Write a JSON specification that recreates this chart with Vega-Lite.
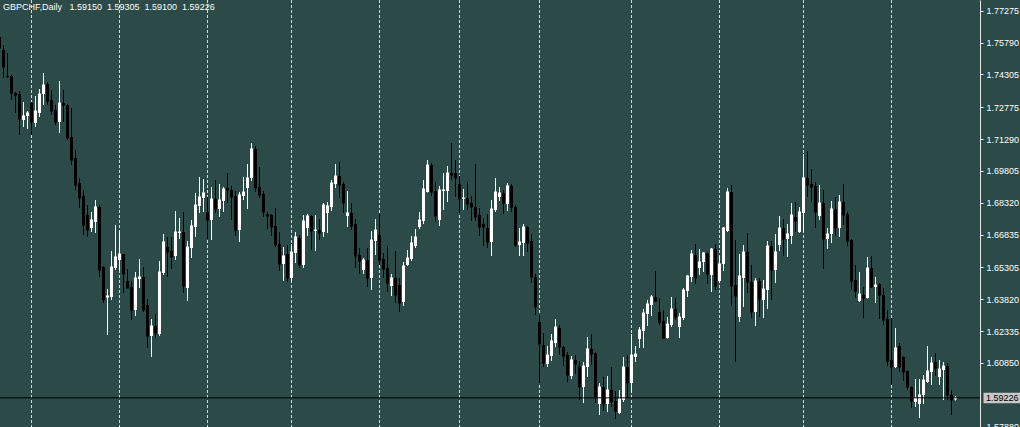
{
  "$schema": "https://vega.github.io/schema/vega-lite/v6.json",
  "width": 980,
  "height": 427,
  "autosize": {"type": "none"},
  "padding": {"left": 0, "top": 0, "right": 40, "bottom": 0},
  "background": "#2b4a48",
  "config": {"view": {"stroke": null}},
  "title": {"text": "GBPCHF,Daily\u00a0\u00a0\u00a01.59150\u00a0\u00a01.59305\u00a0\u00a01.59100\u00a0\u00a01.59226", "anchor": "start", "frame": "group", "orient": "top", "baseline": "alphabetic", "offset": 0, "dx": 3, "dy": 19, "color": "#ffffff", "font": "Liberation Sans", "fontSize": 9, "fontWeight": "normal"},
  "datasets": {
    "seps": [{"i":7},{"i":29},{"i":51},{"i":72},{"i":94},{"i":114},{"i":134},{"i":157},{"i":179},{"i":200},{"i":222}],
    "candles": [
{"i":-1,"o":1.76049,"h":1.76095,"l":1.75443,"c":1.75536},
{"i":0,"o":1.75443,"h":1.75676,"l":1.74137,"c":1.74651},
{"i":1,"o":1.74230,"h":1.75303,"l":1.74137,"c":1.74207},
{"i":2,"o":1.74230,"h":1.74277,"l":1.73112,"c":1.73438},
{"i":3,"o":1.73438,"h":1.73485,"l":1.72506,"c":1.73345},
{"i":4,"o":1.73392,"h":1.73531,"l":1.71480,"c":1.72226},
{"i":5,"o":1.72179,"h":1.73019,"l":1.71853,"c":1.72366},
{"i":6,"o":1.72366,"h":1.72599,"l":1.71759,"c":1.72506},
{"i":7,"o":1.72972,"h":1.73019,"l":1.71480,"c":1.72086},
{"i":8,"o":1.72039,"h":1.73298,"l":1.71853,"c":1.72599},
{"i":9,"o":1.72506,"h":1.73624,"l":1.72320,"c":1.73392},
{"i":10,"o":1.73392,"h":1.74370,"l":1.72879,"c":1.73811},
{"i":11,"o":1.73858,"h":1.73951,"l":1.72879,"c":1.73065},
{"i":12,"o":1.73112,"h":1.73578,"l":1.72413,"c":1.72599},
{"i":13,"o":1.72646,"h":1.72879,"l":1.71946,"c":1.72086},
{"i":14,"o":1.72086,"h":1.73997,"l":1.71573,"c":1.72972},
{"i":15,"o":1.72972,"h":1.73578,"l":1.72086,"c":1.72879},
{"i":16,"o":1.72879,"h":1.72926,"l":1.71247,"c":1.71340},
{"i":17,"o":1.71387,"h":1.72739,"l":1.70081,"c":1.70314},
{"i":18,"o":1.70408,"h":1.70781,"l":1.68916,"c":1.69149},
{"i":19,"o":1.69242,"h":1.69475,"l":1.68076,"c":1.68543},
{"i":20,"o":1.68636,"h":1.68916,"l":1.66818,"c":1.67284},
{"i":21,"o":1.67750,"h":1.68216,"l":1.66725,"c":1.67051},
{"i":22,"o":1.67144,"h":1.67890,"l":1.66958,"c":1.67517},
{"i":23,"o":1.67424,"h":1.68449,"l":1.66911,"c":1.68123},
{"i":24,"o":1.68123,"h":1.68216,"l":1.64860,"c":1.65186},
{"i":25,"o":1.65326,"h":1.65372,"l":1.63647,"c":1.63787},
{"i":26,"o":1.63903,"h":1.64299,"l":1.62155,"c":1.63973},
{"i":27,"o":1.63927,"h":1.66071,"l":1.63787,"c":1.65326},
{"i":28,"o":1.65279,"h":1.67284,"l":1.65186,"c":1.65792},
{"i":29,"o":1.65652,"h":1.67051,"l":1.65139,"c":1.65932},
{"i":30,"o":1.65932,"h":1.65932,"l":1.64113,"c":1.65000},
{"i":31,"o":1.64672,"h":1.65232,"l":1.64323,"c":1.64346},
{"i":32,"o":1.64393,"h":1.64672,"l":1.62854,"c":1.63321},
{"i":33,"o":1.63321,"h":1.65093,"l":1.63041,"c":1.64813},
{"i":34,"o":1.64766,"h":1.65698,"l":1.64346,"c":1.64860},
{"i":35,"o":1.64860,"h":1.65326,"l":1.63228,"c":1.63321},
{"i":36,"o":1.63554,"h":1.63833,"l":1.61549,"c":1.62108},
{"i":37,"o":1.62108,"h":1.62901,"l":1.61129,"c":1.62574},
{"i":38,"o":1.62574,"h":1.63135,"l":1.62015,"c":1.62248},
{"i":39,"o":1.62202,"h":1.65605,"l":1.62108,"c":1.65093},
{"i":40,"o":1.65046,"h":1.66865,"l":1.64953,"c":1.66491},
{"i":41,"o":1.66258,"h":1.66725,"l":1.64860,"c":1.66025},
{"i":42,"o":1.66071,"h":1.66725,"l":1.65232,"c":1.65792},
{"i":43,"o":1.65838,"h":1.67936,"l":1.65652,"c":1.66958},
{"i":44,"o":1.66911,"h":1.67610,"l":1.66631,"c":1.66958},
{"i":45,"o":1.66958,"h":1.67890,"l":1.64113,"c":1.64439},
{"i":46,"o":1.64346,"h":1.66537,"l":1.63740,"c":1.66258},
{"i":47,"o":1.66211,"h":1.67517,"l":1.65745,"c":1.67237},
{"i":48,"o":1.67191,"h":1.68776,"l":1.66725,"c":1.68216},
{"i":49,"o":1.68169,"h":1.69522,"l":1.67843,"c":1.68590},
{"i":50,"o":1.68543,"h":1.69428,"l":1.67890,"c":1.68776},
{"i":51,"o":1.67890,"h":1.68590,"l":1.66631,"c":1.67517},
{"i":52,"o":1.67517,"h":1.69055,"l":1.66584,"c":1.68496},
{"i":53,"o":1.68496,"h":1.69382,"l":1.67843,"c":1.68029},
{"i":54,"o":1.68029,"h":1.69196,"l":1.67657,"c":1.68449},
{"i":55,"o":1.68402,"h":1.69055,"l":1.67890,"c":1.68962},
{"i":56,"o":1.69009,"h":1.69708,"l":1.68309,"c":1.68916},
{"i":57,"o":1.68916,"h":1.69102,"l":1.67517,"c":1.68590},
{"i":58,"o":1.68636,"h":1.68869,"l":1.66771,"c":1.67051},
{"i":59,"o":1.67051,"h":1.68823,"l":1.66491,"c":1.68683},
{"i":60,"o":1.68636,"h":1.69522,"l":1.68449,"c":1.68823},
{"i":61,"o":1.69009,"h":1.70128,"l":1.68029,"c":1.69475},
{"i":62,"o":1.69475,"h":1.71107,"l":1.69335,"c":1.70827},
{"i":63,"o":1.70827,"h":1.70967,"l":1.68823,"c":1.69009},
{"i":64,"o":1.69055,"h":1.69988,"l":1.68543,"c":1.68683},
{"i":65,"o":1.68730,"h":1.68869,"l":1.67657,"c":1.67890},
{"i":66,"o":1.67797,"h":1.67890,"l":1.67097,"c":1.67703},
{"i":67,"o":1.67750,"h":1.67797,"l":1.66771,"c":1.67191},
{"i":68,"o":1.67237,"h":1.68076,"l":1.66258,"c":1.66351},
{"i":69,"o":1.66398,"h":1.66958,"l":1.65139,"c":1.65466},
{"i":70,"o":1.65466,"h":1.66258,"l":1.64672,"c":1.65838},
{"i":71,"o":1.65932,"h":1.66351,"l":1.64626,"c":1.64813},
{"i":72,"o":1.64813,"h":1.66398,"l":1.64626,"c":1.66025},
{"i":73,"o":1.65978,"h":1.66958,"l":1.65512,"c":1.66725},
{"i":74,"o":1.66678,"h":1.66818,"l":1.65279,"c":1.65419},
{"i":75,"o":1.65419,"h":1.67750,"l":1.65279,"c":1.67470},
{"i":76,"o":1.67144,"h":1.67797,"l":1.66771,"c":1.67703},
{"i":77,"o":1.67703,"h":1.67750,"l":1.66118,"c":1.67004},
{"i":78,"o":1.67004,"h":1.67750,"l":1.66071,"c":1.67051},
{"i":79,"o":1.67051,"h":1.67563,"l":1.66584,"c":1.66911},
{"i":80,"o":1.66958,"h":1.68309,"l":1.66725,"c":1.68216},
{"i":81,"o":1.67843,"h":1.68356,"l":1.66911,"c":1.68169},
{"i":82,"o":1.68123,"h":1.69382,"l":1.67936,"c":1.69242},
{"i":83,"o":1.69196,"h":1.70128,"l":1.69009,"c":1.69568},
{"i":84,"o":1.69568,"h":1.70221,"l":1.68543,"c":1.69149},
{"i":85,"o":1.69196,"h":1.69289,"l":1.67843,"c":1.68309},
{"i":86,"o":1.67703,"h":1.68869,"l":1.67191,"c":1.67843},
{"i":87,"o":1.67843,"h":1.68309,"l":1.67051,"c":1.67237},
{"i":88,"o":1.67331,"h":1.67563,"l":1.65279,"c":1.65838},
{"i":89,"o":1.65885,"h":1.66211,"l":1.65000,"c":1.65605},
{"i":90,"o":1.65186,"h":1.65745,"l":1.65000,"c":1.65652},
{"i":91,"o":1.65652,"h":1.66211,"l":1.64393,"c":1.64813},
{"i":92,"o":1.64813,"h":1.67004,"l":1.64253,"c":1.66584},
{"i":93,"o":1.66537,"h":1.67563,"l":1.65885,"c":1.67051},
{"i":94,"o":1.66818,"h":1.67797,"l":1.65419,"c":1.65652},
{"i":95,"o":1.65698,"h":1.65978,"l":1.64813,"c":1.65232},
{"i":96,"o":1.65279,"h":1.66304,"l":1.64160,"c":1.64579},
{"i":97,"o":1.64439,"h":1.65000,"l":1.63973,"c":1.64813},
{"i":98,"o":1.64813,"h":1.66071,"l":1.63647,"c":1.64020},
{"i":99,"o":1.64486,"h":1.64813,"l":1.63228,"c":1.63647},
{"i":100,"o":1.63694,"h":1.65559,"l":1.63507,"c":1.65372},
{"i":101,"o":1.65419,"h":1.66118,"l":1.65372,"c":1.65745},
{"i":102,"o":1.65698,"h":1.66771,"l":1.65605,"c":1.66444},
{"i":103,"o":1.66304,"h":1.67097,"l":1.66211,"c":1.66725},
{"i":104,"o":1.67191,"h":1.67890,"l":1.67097,"c":1.67517},
{"i":105,"o":1.67470,"h":1.69382,"l":1.67331,"c":1.68962},
{"i":106,"o":1.68823,"h":1.70314,"l":1.68800,"c":1.70081},
{"i":107,"o":1.70081,"h":1.70174,"l":1.68636,"c":1.68823},
{"i":108,"o":1.68869,"h":1.69289,"l":1.67424,"c":1.67703},
{"i":109,"o":1.67517,"h":1.69102,"l":1.67237,"c":1.68916},
{"i":110,"o":1.68869,"h":1.69708,"l":1.67983,"c":1.68916},
{"i":111,"o":1.68869,"h":1.70034,"l":1.68356,"c":1.69708},
{"i":112,"o":1.69708,"h":1.71107,"l":1.69382,"c":1.69615},
{"i":113,"o":1.69708,"h":1.70314,"l":1.68590,"c":1.69475},
{"i":114,"o":1.69196,"h":1.69568,"l":1.67843,"c":1.68496},
{"i":115,"o":1.68520,"h":1.68962,"l":1.67983,"c":1.68543},
{"i":116,"o":1.68543,"h":1.69289,"l":1.67983,"c":1.68262},
{"i":117,"o":1.68309,"h":1.68636,"l":1.67470,"c":1.68123},
{"i":118,"o":1.68123,"h":1.70128,"l":1.67470,"c":1.67657},
{"i":119,"o":1.67750,"h":1.68076,"l":1.66771,"c":1.67191},
{"i":120,"o":1.67331,"h":1.67610,"l":1.66304,"c":1.67191},
{"i":121,"o":1.67144,"h":1.67797,"l":1.66211,"c":1.66491},
{"i":122,"o":1.66491,"h":1.68449,"l":1.65838,"c":1.68029},
{"i":123,"o":1.67983,"h":1.69475,"l":1.67890,"c":1.68823},
{"i":124,"o":1.68590,"h":1.69055,"l":1.68402,"c":1.68776},
{"i":125,"o":1.68776,"h":1.68916,"l":1.67797,"c":1.68309},
{"i":126,"o":1.68262,"h":1.69242,"l":1.67936,"c":1.69102},
{"i":127,"o":1.69102,"h":1.69196,"l":1.67890,"c":1.68123},
{"i":128,"o":1.68123,"h":1.68216,"l":1.66258,"c":1.66351},
{"i":129,"o":1.66351,"h":1.67144,"l":1.65838,"c":1.66491},
{"i":130,"o":1.66444,"h":1.67331,"l":1.65838,"c":1.67191},
{"i":131,"o":1.67191,"h":1.67237,"l":1.66025,"c":1.66444},
{"i":132,"o":1.66537,"h":1.66865,"l":1.64579,"c":1.64860},
{"i":133,"o":1.64860,"h":1.65000,"l":1.63088,"c":1.63461},
{"i":134,"o":1.62761,"h":1.63088,"l":1.59917,"c":1.61736},
{"i":135,"o":1.61689,"h":1.62248,"l":1.60663,"c":1.60849},
{"i":136,"o":1.60802,"h":1.61642,"l":1.60663,"c":1.61222},
{"i":137,"o":1.61175,"h":1.62202,"l":1.60942,"c":1.61875},
{"i":138,"o":1.61782,"h":1.62901,"l":1.61596,"c":1.62528},
{"i":139,"o":1.62481,"h":1.62621,"l":1.61222,"c":1.61596},
{"i":140,"o":1.61596,"h":1.61642,"l":1.60709,"c":1.61175},
{"i":141,"o":1.61222,"h":1.61362,"l":1.59964,"c":1.60290},
{"i":142,"o":1.60243,"h":1.61175,"l":1.60103,"c":1.60989},
{"i":143,"o":1.60989,"h":1.61222,"l":1.60337,"c":1.60802},
{"i":144,"o":1.60709,"h":1.60942,"l":1.59124,"c":1.59730},
{"i":145,"o":1.59730,"h":1.60896,"l":1.58984,"c":1.60709},
{"i":146,"o":1.60663,"h":1.62062,"l":1.60197,"c":1.61502},
{"i":147,"o":1.61502,"h":1.62202,"l":1.60756,"c":1.61269},
{"i":148,"o":1.61315,"h":1.61339,"l":1.58984,"c":1.59264},
{"i":149,"o":1.58938,"h":1.59917,"l":1.58425,"c":1.59730},
{"i":150,"o":1.59730,"h":1.60197,"l":1.58611,"c":1.58938},
{"i":151,"o":1.58938,"h":1.60243,"l":1.58565,"c":1.59590},
{"i":152,"o":1.59590,"h":1.60663,"l":1.58798,"c":1.59031},
{"i":153,"o":1.59077,"h":1.59543,"l":1.58238,"c":1.58611},
{"i":154,"o":1.58518,"h":1.59590,"l":1.58472,"c":1.59171},
{"i":155,"o":1.59124,"h":1.61129,"l":1.59031,"c":1.60663},
{"i":156,"o":1.60663,"h":1.61222,"l":1.59217,"c":1.59917},
{"i":157,"o":1.59917,"h":1.62202,"l":1.59450,"c":1.61222},
{"i":158,"o":1.61129,"h":1.61642,"l":1.60896,"c":1.61269},
{"i":159,"o":1.61969,"h":1.62528,"l":1.61549,"c":1.62388},
{"i":160,"o":1.62341,"h":1.63367,"l":1.61549,"c":1.63181},
{"i":161,"o":1.63135,"h":1.63787,"l":1.62575,"c":1.63601},
{"i":162,"o":1.63554,"h":1.64020,"l":1.63041,"c":1.63927},
{"i":163,"o":1.63927,"h":1.65139,"l":1.63694,"c":1.63740},
{"i":164,"o":1.63228,"h":1.63880,"l":1.62621,"c":1.62761},
{"i":165,"o":1.62807,"h":1.63321,"l":1.61969,"c":1.62015},
{"i":166,"o":1.62015,"h":1.62994,"l":1.61992,"c":1.62668},
{"i":167,"o":1.62621,"h":1.63927,"l":1.62528,"c":1.63367},
{"i":168,"o":1.63367,"h":1.63880,"l":1.62854,"c":1.62994},
{"i":169,"o":1.62528,"h":1.63181,"l":1.62015,"c":1.62994},
{"i":170,"o":1.62947,"h":1.64346,"l":1.62854,"c":1.64253},
{"i":171,"o":1.64206,"h":1.64953,"l":1.63927,"c":1.64906},
{"i":172,"o":1.64860,"h":1.66118,"l":1.64626,"c":1.65932},
{"i":173,"o":1.65885,"h":1.66398,"l":1.64533,"c":1.64813},
{"i":174,"o":1.65279,"h":1.66164,"l":1.64953,"c":1.65559},
{"i":175,"o":1.65559,"h":1.66025,"l":1.65093,"c":1.65978},
{"i":176,"o":1.65978,"h":1.66001,"l":1.64533,"c":1.65000},
{"i":177,"o":1.64953,"h":1.66211,"l":1.64160,"c":1.66164},
{"i":178,"o":1.66164,"h":1.66398,"l":1.64253,"c":1.64439},
{"i":179,"o":1.64672,"h":1.65838,"l":1.64579,"c":1.65466},
{"i":180,"o":1.65466,"h":1.67191,"l":1.65139,"c":1.67144},
{"i":181,"o":1.67004,"h":1.69009,"l":1.66958,"c":1.68823},
{"i":182,"o":1.68823,"h":1.69149,"l":1.63507,"c":1.64439},
{"i":183,"o":1.64486,"h":1.66584,"l":1.60896,"c":1.63973},
{"i":184,"o":1.62994,"h":1.65932,"l":1.62761,"c":1.64906},
{"i":185,"o":1.64813,"h":1.66351,"l":1.63461,"c":1.66025},
{"i":186,"o":1.66025,"h":1.66911,"l":1.64113,"c":1.64626},
{"i":187,"o":1.64626,"h":1.65419,"l":1.62947,"c":1.63228},
{"i":188,"o":1.63228,"h":1.64813,"l":1.62574,"c":1.64672},
{"i":189,"o":1.64672,"h":1.64813,"l":1.62994,"c":1.63833},
{"i":190,"o":1.63787,"h":1.64719,"l":1.62947,"c":1.64299},
{"i":191,"o":1.64253,"h":1.66537,"l":1.63367,"c":1.66304},
{"i":192,"o":1.66304,"h":1.66537,"l":1.63787,"c":1.65186},
{"i":193,"o":1.65186,"h":1.66865,"l":1.64579,"c":1.66025},
{"i":194,"o":1.66351,"h":1.67703,"l":1.66071,"c":1.67144},
{"i":195,"o":1.67144,"h":1.67563,"l":1.65838,"c":1.66631},
{"i":196,"o":1.66631,"h":1.67331,"l":1.65792,"c":1.66865},
{"i":197,"o":1.66771,"h":1.68309,"l":1.66398,"c":1.67750},
{"i":198,"o":1.67657,"h":1.68356,"l":1.66958,"c":1.67470},
{"i":199,"o":1.66958,"h":1.68123,"l":1.66911,"c":1.67890},
{"i":200,"o":1.67843,"h":1.70595,"l":1.66958,"c":1.69475},
{"i":201,"o":1.69475,"h":1.70734,"l":1.68590,"c":1.69149},
{"i":202,"o":1.69196,"h":1.69895,"l":1.68356,"c":1.69055},
{"i":203,"o":1.69102,"h":1.69289,"l":1.67144,"c":1.67890},
{"i":204,"o":1.67703,"h":1.69149,"l":1.67517,"c":1.68309},
{"i":205,"o":1.68309,"h":1.68916,"l":1.65232,"c":1.66631},
{"i":206,"o":1.66631,"h":1.67144,"l":1.66164,"c":1.66865},
{"i":207,"o":1.66865,"h":1.68402,"l":1.66444,"c":1.68029},
{"i":208,"o":1.68029,"h":1.68590,"l":1.66771,"c":1.67144},
{"i":209,"o":1.67144,"h":1.68683,"l":1.66725,"c":1.68356},
{"i":210,"o":1.68356,"h":1.69196,"l":1.67284,"c":1.67750},
{"i":211,"o":1.67797,"h":1.67890,"l":1.66304,"c":1.66537},
{"i":212,"o":1.66584,"h":1.66631,"l":1.64253,"c":1.64672},
{"i":213,"o":1.64719,"h":1.65419,"l":1.63880,"c":1.64206},
{"i":214,"o":1.63740,"h":1.65093,"l":1.63694,"c":1.64066},
{"i":215,"o":1.64020,"h":1.64393,"l":1.62947,"c":1.63880},
{"i":216,"o":1.63880,"h":1.65792,"l":1.63857,"c":1.65279},
{"i":217,"o":1.65279,"h":1.65838,"l":1.64346,"c":1.64393},
{"i":218,"o":1.64393,"h":1.64860,"l":1.63647,"c":1.64486},
{"i":219,"o":1.64533,"h":1.64579,"l":1.62901,"c":1.64020},
{"i":220,"o":1.64020,"h":1.64346,"l":1.62621,"c":1.62854},
{"i":221,"o":1.62901,"h":1.63321,"l":1.60709,"c":1.60942},
{"i":222,"o":1.60989,"h":1.62947,"l":1.59824,"c":1.60663},
{"i":223,"o":1.60663,"h":1.62481,"l":1.60616,"c":1.61549},
{"i":224,"o":1.61642,"h":1.61782,"l":1.60430,"c":1.60663},
{"i":225,"o":1.61129,"h":1.61152,"l":1.60010,"c":1.60430},
{"i":226,"o":1.60476,"h":1.60500,"l":1.59590,"c":1.59730},
{"i":227,"o":1.59730,"h":1.59753,"l":1.58751,"c":1.59077},
{"i":228,"o":1.59031,"h":1.60103,"l":1.58798,"c":1.59217},
{"i":229,"o":1.58938,"h":1.60103,"l":1.58285,"c":1.59357},
{"i":230,"o":1.59357,"h":1.60290,"l":1.58938,"c":1.60057},
{"i":231,"o":1.59964,"h":1.61642,"l":1.59917,"c":1.60476},
{"i":232,"o":1.60430,"h":1.61129,"l":1.59824,"c":1.60849},
{"i":233,"o":1.60896,"h":1.61315,"l":1.60243,"c":1.60616},
{"i":234,"o":1.60197,"h":1.60989,"l":1.59824,"c":1.60570},
{"i":235,"o":1.60523,"h":1.60896,"l":1.59124,"c":1.60709},
{"i":236,"o":1.60709,"h":1.60849,"l":1.59124,"c":1.59357},
{"i":237,"o":1.59357,"h":1.59590,"l":1.58425,"c":1.59124},
{"i":238,"o":1.59150,"h":1.59305,"l":1.59100,"c":1.59226}
    ]
  },
  "layer": [
    {
      "data": {"name": "seps"},
      "mark": {"type": "rule", "color": "#d8d8d8", "strokeWidth": 1, "strokeDash": [3, 2]},
      "encoding": {
        "x": {"field": "i", "type": "quantitative", "scale": {"domain": [-0.875, 244.125], "nice": false, "zero": false, "padding": 0}, "axis": null}
      }
    },
    {
      "data": {"name": "candles"},
      "mark": {"type": "rule", "strokeWidth": 1},
      "encoding": {
        "x": {"field": "i", "type": "quantitative", "scale": {"domain": [-0.875, 244.125], "nice": false, "zero": false, "padding": 0}, "axis": null},
        "y": {"field": "l", "type": "quantitative", "scale": {"domain": [1.57866, 1.77774], "nice": false, "zero": false, "padding": 0},
          "axis": {"orient": "right", "title": null, "values": [1.77275, 1.7579, 1.74305, 1.72775, 1.7129, 1.69805, 1.6832, 1.66835, 1.65305, 1.6382, 1.62335, 1.6085, 1.5788], "format": ".5f", "grid": false, "domainColor": "#e8e8e8", "tickColor": "#e8e8e8", "tickSize": 3, "labelPadding": 3, "labelColor": "#ffffff", "labelFont": "Liberation Sans", "labelFontSize": 9, "labelOverlap": false, "labelFlush": false, "labelBound": false}},
        "y2": {"field": "h"},
        "color": {"condition": {"test": "datum.c >= datum.o", "value": "#ffffff"}, "value": "#000000"}
      }
    },
    {
      "data": {"name": "candles"},
      "mark": {"type": "bar", "size": 3, "orient": "vertical"},
      "encoding": {
        "x": {"field": "i", "type": "quantitative", "scale": {"domain": [-0.875, 244.125], "nice": false, "zero": false, "padding": 0}, "axis": null},
        "y": {"field": "o", "type": "quantitative", "scale": {"domain": [1.57866, 1.77774], "nice": false, "zero": false, "padding": 0},
          "axis": {"orient": "right", "title": null, "values": [1.77275, 1.7579, 1.74305, 1.72775, 1.7129, 1.69805, 1.6832, 1.66835, 1.65305, 1.6382, 1.62335, 1.6085, 1.5788], "format": ".5f", "grid": false, "domainColor": "#e8e8e8", "tickColor": "#e8e8e8", "tickSize": 3, "labelPadding": 3, "labelColor": "#ffffff", "labelFont": "Liberation Sans", "labelFontSize": 9, "labelOverlap": false, "labelFlush": false, "labelBound": false}},
        "y2": {"field": "c"},
        "color": {"condition": {"test": "datum.c >= datum.o", "value": "#ffffff"}, "value": "#000000"}
      }
    },
    {
      "data": {"name": "candles"},
      "mark": {"type": "tick", "orient": "horizontal", "size": 3, "thickness": 1, "opacity": 1},
      "encoding": {
        "x": {"field": "i", "type": "quantitative", "scale": {"domain": [-0.875, 244.125], "nice": false, "zero": false, "padding": 0}, "axis": null},
        "y": {"field": "c", "type": "quantitative", "scale": {"domain": [1.57866, 1.77774], "nice": false, "zero": false, "padding": 0},
          "axis": {"orient": "right", "title": null, "values": [1.77275, 1.7579, 1.74305, 1.72775, 1.7129, 1.69805, 1.6832, 1.66835, 1.65305, 1.6382, 1.62335, 1.6085, 1.5788], "format": ".5f", "grid": false, "domainColor": "#e8e8e8", "tickColor": "#e8e8e8", "tickSize": 3, "labelPadding": 3, "labelColor": "#ffffff", "labelFont": "Liberation Sans", "labelFontSize": 9, "labelOverlap": false, "labelFlush": false, "labelBound": false}},
        "color": {"condition": {"test": "datum.c >= datum.o", "value": "#ffffff"}, "value": "#000000"}
      }
    },
    {
      "data": {"values": [{"p": 1.59226}]},
      "mark": {"type": "rule", "color": "#000000", "strokeWidth": 1},
      "encoding": {
        "y": {"field": "p", "type": "quantitative", "scale": {"domain": [1.57866, 1.77774], "nice": false, "zero": false, "padding": 0},
          "axis": {"orient": "right", "title": null, "values": [1.77275, 1.7579, 1.74305, 1.72775, 1.7129, 1.69805, 1.6832, 1.66835, 1.65305, 1.6382, 1.62335, 1.6085, 1.5788], "format": ".5f", "grid": false, "domainColor": "#e8e8e8", "tickColor": "#e8e8e8", "tickSize": 3, "labelPadding": 3, "labelColor": "#ffffff", "labelFont": "Liberation Sans", "labelFontSize": 9, "labelOverlap": false, "labelFlush": false, "labelBound": false}}
      }
    },
    {
      "data": {"values": [{"a": 245.0, "b": 254.2, "top": 1.59465, "bot": 1.58971}]},
      "mark": {"type": "rect", "color": "#c8c8c8", "clip": false},
      "encoding": {
        "x": {"field": "a", "type": "quantitative", "scale": {"domain": [-0.875, 244.125], "nice": false, "zero": false, "padding": 0}, "axis": null},
        "x2": {"field": "b"},
        "y": {"field": "top", "type": "quantitative", "scale": {"domain": [1.57866, 1.77774], "nice": false, "zero": false, "padding": 0},
          "axis": {"orient": "right", "title": null, "values": [1.77275, 1.7579, 1.74305, 1.72775, 1.7129, 1.69805, 1.6832, 1.66835, 1.65305, 1.6382, 1.62335, 1.6085, 1.5788], "format": ".5f", "grid": false, "domainColor": "#e8e8e8", "tickColor": "#e8e8e8", "tickSize": 3, "labelPadding": 3, "labelColor": "#ffffff", "labelFont": "Liberation Sans", "labelFontSize": 9, "labelOverlap": false, "labelFlush": false, "labelBound": false}},
        "y2": {"field": "bot"}
      }
    },
    {
      "data": {"values": [{"a": 245.6, "p": 1.59226, "t": "1.59226"}]},
      "mark": {"type": "text", "align": "left", "baseline": "middle", "color": "#000000", "font": "Liberation Sans", "fontSize": 9, "clip": false},
      "encoding": {
        "x": {"field": "a", "type": "quantitative", "scale": {"domain": [-0.875, 244.125], "nice": false, "zero": false, "padding": 0}, "axis": null},
        "y": {"field": "p", "type": "quantitative", "scale": {"domain": [1.57866, 1.77774], "nice": false, "zero": false, "padding": 0},
          "axis": {"orient": "right", "title": null, "values": [1.77275, 1.7579, 1.74305, 1.72775, 1.7129, 1.69805, 1.6832, 1.66835, 1.65305, 1.6382, 1.62335, 1.6085, 1.5788], "format": ".5f", "grid": false, "domainColor": "#e8e8e8", "tickColor": "#e8e8e8", "tickSize": 3, "labelPadding": 3, "labelColor": "#ffffff", "labelFont": "Liberation Sans", "labelFontSize": 9, "labelOverlap": false, "labelFlush": false, "labelBound": false}},
        "text": {"field": "t"}
      }
    }
  ]
}
